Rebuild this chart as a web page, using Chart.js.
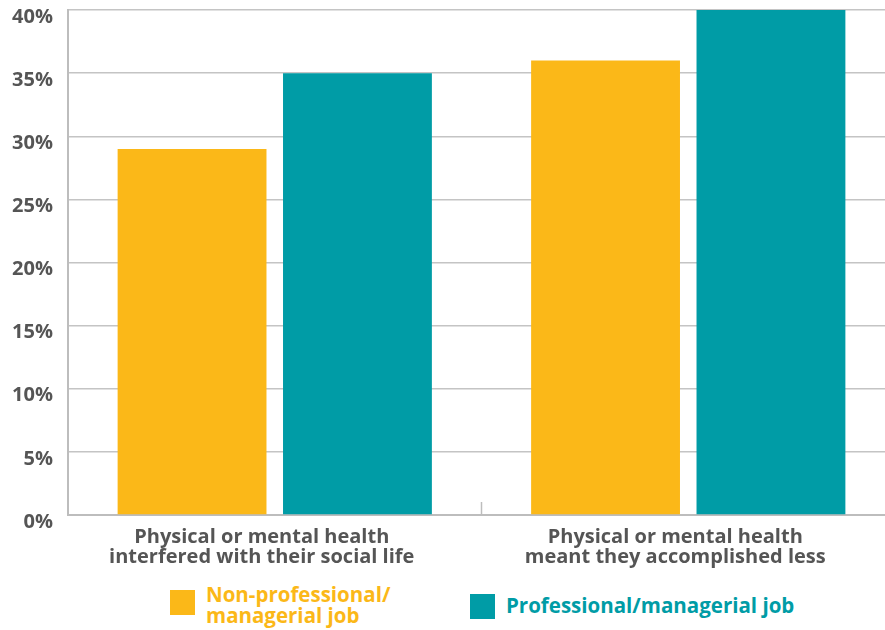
<!DOCTYPE html>
<html>
<head>
<meta charset="utf-8">
<script src="https://cdn.jsdelivr.net/npm/chart.js@4.4.0/dist/chart.umd.min.js"></script>
<style>
  html, body { margin: 0; padding: 0; background: #fff; overflow: hidden; }
  #wrap { position: absolute; left: 0; top: 0; width: 895px; height: 580px; }
  #legend { position: absolute; left: 0; top: 580px; width: 885px; height: 50px; font-family: "Open Sans", sans-serif; font-weight: bold; font-size: 20.5px; }
  .item { position: absolute; display: flex; align-items: flex-start; }
  .box { width: 25px; height: 25px; margin-right: 11px; }
  .txt { line-height: 21px; }
</style>
</head>
<body>
<div id="wrap"><canvas id="myChart"></canvas></div>
<div id="legend"></div>
<script>
// dados
const categorias = [
  ['Physical or mental health', 'interfered with their social life'],
  ['Physical or mental health', 'meant they accomplished less']
]
const nomesSeries = [['Non-professional/', 'managerial job'], ['Professional/managerial job']]
const valoresNaoProf = [29, 36]
const valoresProf = [35, 40]
const ticksY = [0, 5, 10, 15, 20, 25, 30, 35, 40]
const cores = ['#FBB818', '#009CA6']

// marca pequena entre as categorias, em cima do eixo
const tickEntre = {
  id: 'tickEntre',
  afterDraw(chart) {
    let x = chart.scales.x
    let ctx = chart.ctx
    ctx.save()
    ctx.strokeStyle = '#bdbdbd'
    ctx.lineWidth = 1.5
    for (let i = 1; i < categorias.length; i++) {
      let px = (x.getPixelForValue(i - 1) + x.getPixelForValue(i)) / 2
      ctx.beginPath()
      ctx.moveTo(px, x.top)
      ctx.lineTo(px, x.top - 13)
      ctx.stroke()
    }
    ctx.restore()
  }
}

var ctx = document.getElementById('myChart').getContext('2d')
var myChart = new Chart(ctx, {
  type: 'bar',
  data: {
    labels: categorias,
    datasets: [{
      label: nomesSeries[0].join(' '),
      data: valoresNaoProf,
      backgroundColor: cores[0]
    }, {
      label: nomesSeries[1].join(' '),
      data: valoresProf,
      backgroundColor: cores[1]
    }]
  },
  options: {
    responsive: true,
    maintainAspectRatio: false,
    animation: false,
    layout: { padding: { top: 10, left: 0, right: 0, bottom: 0 } },
    plugins: {
      legend: { display: false },
      tooltip: { enabled: false }
    },
    scales: {
      x: {
        grid: { display: false },
        border: { color: '#bdbdbd', width: 2 },
        ticks: {
          color: '#555',
          padding: 5,
          labelOffset: -13,
          font: { family: '"Open Sans", sans-serif', weight: 'bold', size: 20, lineHeight: 0.97 }
        },
        afterFit(scale) { scale.height = 65 }
      },
      y: {
        min: 0,
        max: 40,
        afterBuildTicks(scale) { scale.ticks = ticksY.map(v => ({ value: v })) },
        grid: { color: '#c4c4c4', lineWidth: 1.5, drawTicks: false },
        border: { color: '#bdbdbd', width: 2 },
        ticks: {
          color: '#555',
          padding: 15,
          labelOffset: 7,
          font: { family: '"Open Sans", sans-serif', weight: 'bold', size: 20 },
          callback: v => v + '%'
        },
        afterFit(scale) {
          scale.width = 68
          scale.paddingTop = 0
          scale.paddingBottom = 0
        }
      }
    }
  },
  plugins: [tickEntre]
})

// legenda em html
let legenda = document.querySelector('#legend')
let posicoes = [[170, 10, -6], [470, 14, 1]]
nomesSeries.forEach((nome, i) => {
  let item = document.createElement('div')
  item.className = 'item'
  item.style.left = posicoes[i][0] + 'px'
  item.style.top = posicoes[i][1] + 'px'
  item.innerHTML = `<div class="box" style="background:${cores[i]}"></div><div class="txt" style="color:${cores[i]};margin-top:${posicoes[i][2]}px">${nome.join('<br>')}</div>`
  legenda.appendChild(item)
})
</script>
</body>
</html>
